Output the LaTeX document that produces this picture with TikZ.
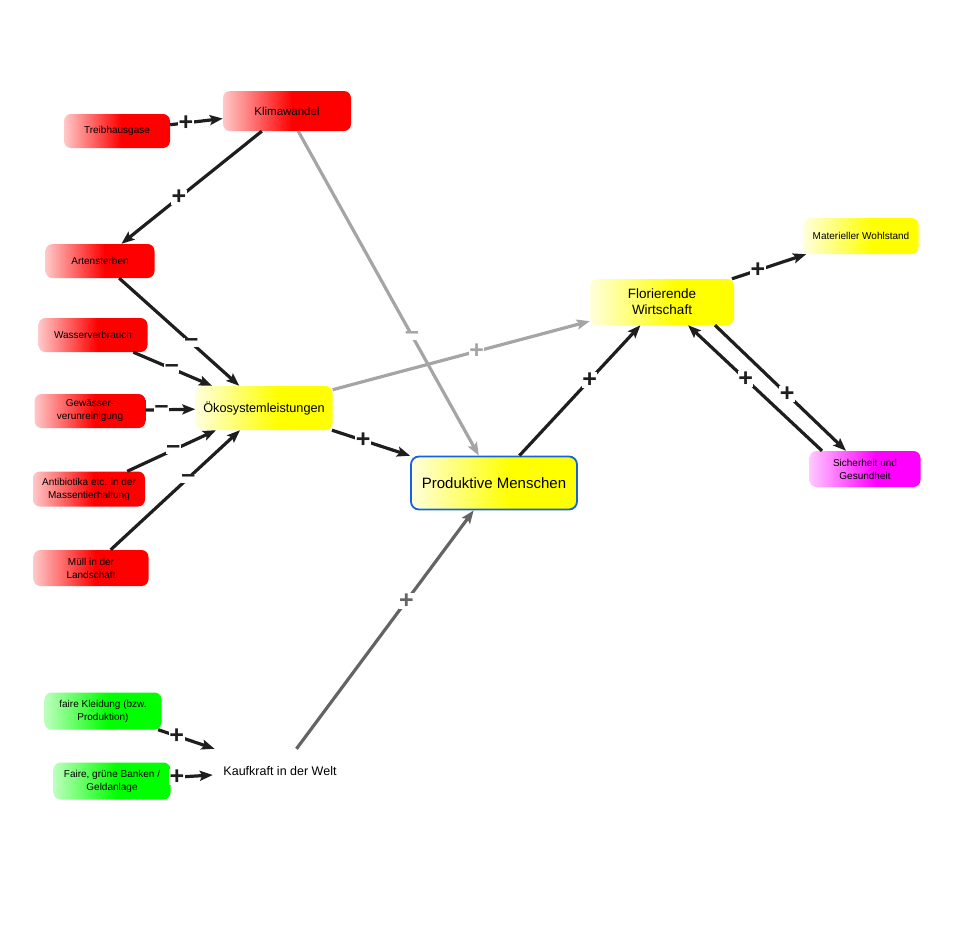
\documentclass[tikz,border=0pt]{standalone}
\usepackage{fontspec}
\setmainfont{Liberation Sans}
\usetikzlibrary{arrows.meta,calc}
\definecolor{edgeblack}{RGB}{30,30,30}
\definecolor{edgegray}{RGB}{165,165,165}
\definecolor{edgedark}{RGB}{100,100,100}
\definecolor{pblue}{RGB}{20,100,220}
\definecolor{redL}{RGB}{255,200,200}
\definecolor{redR}{RGB}{255,0,0}
\definecolor{yelL}{RGB}{255,255,220}
\definecolor{yelR}{RGB}{255,255,0}
\definecolor{magL}{RGB}{255,200,255}
\definecolor{magR}{RGB}{255,0,255}
\definecolor{grnL}{RGB}{190,255,190}
\definecolor{grnR}{RGB}{0,255,0}
\pgfdeclarehorizontalshading{redsh}{100bp}{color(0bp)=(redL); color(25bp)=(redL); color(52bp)=(redR); color(100bp)=(redR)}
\pgfdeclarehorizontalshading{yelsh}{100bp}{color(0bp)=(yelL); color(25bp)=(yelL); color(55bp)=(yelR); color(100bp)=(yelR)}
\pgfdeclarehorizontalshading{magsh}{100bp}{color(0bp)=(magL); color(25bp)=(magL); color(55bp)=(magR); color(100bp)=(magR)}
\pgfdeclarehorizontalshading{grnsh}{100bp}{color(0bp)=(grnL); color(25bp)=(grnL); color(52bp)=(grnR); color(100bp)=(grnR)}
\begin{document}
\begin{tikzpicture}[x=1pt,y=-1pt,
  box/.style={rounded corners=7pt, align=center, inner sep=2pt,
    font=\fontsize{10}{13}\selectfont},
  redbox/.style={box, shading=redsh},
  yelbox/.style={box, shading=yelsh},
  magbox/.style={box, shading=magsh},
  grnbox/.style={box, shading=grnsh},
  conn/.style={line width=3.2pt, edgeblack, -{Stealth[length=13pt,width=10pt,inset=2.5pt]}},
  gconn/.style={conn, edgegray},
  dconn/.style={conn, edgedark},
  sign/.style={fill=white, inner sep=0.5pt, font=\bfseries\fontsize{25}{25}\selectfont, text=edgeblack},
  gsign/.style={sign, text=edgegray},
  dsign/.style={sign, text=edgedark}]
\useasboundingbox (0,0) rectangle (954,935);

% nodes
\node[redbox, minimum width=106pt, minimum height=34pt] (tg) at (117,131) {Treibhausgase};
\node[redbox, minimum width=128pt, minimum height=40pt, font=\fontsize{11.5}{14}\selectfont] (kw) at (287,111) {Klimawandel};
\node[redbox, minimum width=109pt, minimum height=34pt] (as) at (100,261) {Artensterben};
\node[redbox, minimum width=109pt, minimum height=34pt] (wv) at (93,335) {Wasserverbrauch};
\node[redbox, minimum width=111pt, minimum height=34pt] (gv) at (90,411) {Gewässer-\\verunreinigung};
\node[redbox, minimum width=112pt, minimum height=35pt] (ab) at (89,489) {Antibiotika etc. in der\\Massentierhaltung};
\node[redbox, minimum width=115pt, minimum height=36pt] (mu) at (91,568) {Müll in der\\Landschaft};
\node[yelbox, minimum width=137pt, minimum height=44pt, font=\fontsize{12.7}{15}\selectfont] (oe) at (264,408) {Ökosystemleistungen};
\node[yelbox, draw=pblue, line width=1.8pt, rounded corners=8pt, minimum width=166pt, minimum height=53pt, font=\fontsize{15}{18}\selectfont] (pm) at (494,483) {Produktive Menschen};
\node[yelbox, minimum width=144pt, minimum height=46pt, font=\fontsize{13.5}{16}\selectfont] (fw) at (662,302) {Florierende\\Wirtschaft};
\node[yelbox, minimum width=115pt, minimum height=36pt] (mw) at (861,236) {Materieller Wohlstand};
\node[magbox, minimum width=111pt, minimum height=36pt] (sg) at (865,469) {Sicherheit und\\Gesundheit};
\node[grnbox, minimum width=117pt, minimum height=37pt] (fk) at (103,711) {faire Kleidung (bzw.\\Produktion)};
\node[grnbox, minimum width=117pt, minimum height=37pt] (fb) at (112,781) {Faire, grüne Banken /\\Geldanlage};
\node[minimum width=134pt, minimum height=44pt, inner sep=0pt, font=\fontsize{12.5}{15}\selectfont] (kk) at (280,771) {Kaufkraft in der Welt};

% connectors
\draw[conn] (tg) -- node[sign, pos=0.3] {+} (kw);
\draw[conn] (kw) -- node[sign, pos=0.59] {+} (as);
\draw[gconn] (kw) -- node[gsign, pos=0.63] {–} (pm);
\draw[conn] (as) -- node[sign, pos=0.6] {–} (oe);
\draw[conn] (wv) -- node[sign, pos=0.49] {–} (oe);
\draw[conn] (gv) -- node[sign, pos=0.32] {–} (oe);
\draw[conn] (ab) -- node[sign, pos=0.52] {–} (oe);
\draw[conn] (mu) -- node[sign, pos=0.6] {–} (oe);
\draw[gconn] (oe) -- node[gsign, pos=0.56] {+} (fw);
\draw[conn] (oe) -- node[sign, pos=0.4] {+} (pm);
\draw[conn] (pm) -- node[sign, pos=0.58] {+} (fw);
\draw[dconn] (kk) -- node[dsign, pos=0.62] {+} (pm);
\draw[conn] (fw) -- node[sign, pos=0.35] {+} (mw);
\draw[conn] ($(fw.south)+(53,0)$) -- node[sign, pos=0.55] {+} ($(sg.north)+(-19,0)$);
\draw[conn] ($(sg.north)+(-43,0)$) -- node[sign, pos=0.57] {+} ($(fw.south)+(26,0)$);
\draw[conn] (fk) -- node[sign, pos=0.33] {+} (kk);
\draw[conn] (fb) -- node[sign, pos=0.15] {+} (kk);
\end{tikzpicture}
\end{document}
